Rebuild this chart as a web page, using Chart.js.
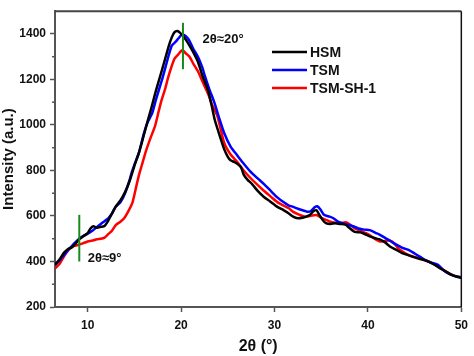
<!DOCTYPE html>
<html><head><meta charset="utf-8">
<script src="https://cdn.jsdelivr.net/npm/chart.js@4.4.0/dist/chart.umd.min.js"></script>
<style>html,body{margin:0;padding:0;background:#fff}#wrap{width:474px;height:356px}</style>
</head><body><div id="wrap"><canvas id="c" width="474" height="356"></canvas></div>
<script>
const hsmX = [6.5,7.0,7.5,7.9,8.3,8.7,9.1,9.5,10.0,10.3,10.6,11.0,11.4,11.8,12.2,12.6,13.0,13.5,14.0,14.5,15.0,15.5,15.8,16.3,16.85,17.3,17.8,18.3,18.7,19.0,19.3,19.6,19.9,20.2,20.5,20.9,21.3,21.8,22.3,22.9,23.3,23.6,24.0,24.6,25.0,25.3,25.8,26.4,26.7,27.1,27.6,28.2,28.9,29.5,30.3,31.0,31.5,32.0,32.5,33.0,33.4,33.8,34.2,34.5,34.8,35.2,35.5,36.0,36.5,37.0,37.6,38.0,38.6,39.2,39.6,40.2,40.8,41.2,41.8,42.4,43.0,43.66,44.3,45.0,45.5,46.1,46.7,47.3,47.8,48.4,48.9,49.5,50];
const hsmY = [386,410,440,455,462,478,498,510,525,545,555,548,552,556,580,611,641,668,705,755,820,880,923,1000,1080,1150,1220,1292,1350,1385,1408,1413,1405,1391,1375,1349,1320,1278,1215,1150,1080,1023,970,895,860,845,835,815,782,760,740,710,682,665,640,625,612,597,590,592,597,605,622,625,605,580,569,565,568,565,562,548,530,528,522,510,502,498,485,465,452,437,428,418,412,406,395,382,368,355,342,333,328];
const tsmX = [6.5,7.0,7.5,7.9,8.3,8.7,9.1,9.5,10.0,10.5,11.0,11.4,11.8,12.2,12.6,13.0,13.5,14.0,14.5,14.7,15.0,15.5,16.0,16.4,16.9,17.3,17.6,18.0,18.3,18.7,19.0,19.4,19.7,20.0,20.2,20.5,20.9,21.3,21.8,22.3,22.5,23.0,23.6,24.0,24.6,25.3,26.0,26.6,27.4,28.2,28.9,29.6,30.3,31.0,31.5,32.0,32.5,33.0,33.5,33.9,34.3,34.57,34.9,35.3,35.9,36.3,36.8,37.3,37.8,38.4,39.0,39.6,40.2,40.8,41.2,41.8,42.4,43.0,43.7,44.4,45.0,45.6,46.2,46.8,47.5,48.0,48.5,49.2,50];
const tsmY = [385,405,430,450,468,485,500,512,522,535,552,565,577,590,611,641,660,700,760,790,825,881,960,1010,1051,1110,1151,1205,1250,1310,1349,1365,1380,1395,1398,1390,1370,1335,1300,1250,1221,1160,1094,1040,966,905,867,835,796,765,739,710,682,660,647,640,632,625,619,622,638,643,630,605,597,590,575,568,562,555,545,540,538,526,519,505,490,475,460,450,435,420,405,395,385,365,350,338,330];
const sh1X = [6.5,7.0,7.5,7.9,8.3,8.7,9.1,9.5,10.0,10.5,11.0,11.4,11.8,12.2,12.6,13.0,13.5,13.9,14.4,14.8,15.2,15.5,15.8,16.2,16.7,17.2,17.6,17.9,18.3,18.6,19.0,19.3,19.7,20.0,20.2,20.5,20.9,21.3,21.8,22.3,22.9,23.3,23.9,24.6,25.3,26.0,26.7,27.4,28.1,28.86,29.6,30.3,31.0,31.5,32.0,32.5,33.0,33.4,34.0,34.5,35.0,35.5,35.9,36.5,37.0,37.6,38.0,38.6,39.2,39.8,40.4,40.8,41.3,41.8,42.3,42.8,43.3,44.0,44.6,45.2,45.8,46.5,47.2,47.8,48.5,49.2,50];
const sh1Y = [370,390,425,450,465,470,474,480,488,492,498,500,505,520,535,560,575,590,625,660,730,782,824,881,940,994,1060,1108,1160,1207,1260,1292,1310,1325,1328,1315,1300,1270,1236,1190,1136,1090,1037,923,870,838,800,768,740,711,685,661,645,635,618,608,600,597,602,604,592,583,576,570,568,572,565,545,535,525,510,498,488,490,492,480,455,436,425,418,410,399,385,370,352,338,330];
const seriesNames = ['HSM','TSM','TSM-SH-1'];
const seriesColors = ['#000000','#0000ff','#ff0000'];
const xTicks = [10,20,30,40,50];
const yTicks = [200,400,600,800,1000,1200,1400];
const yMinorTicks = [300,500,700,900,1100,1300];
const annoX = [9.1,20.2];
const annoYLow = [400,1245];
const annoYHigh = [605,1449];
const annoText = ['2θ≈9°','2θ≈20°'];
const annoTextX = [10.0,22.3];
const annoTextY = [415,1375];

const FONT = '"Liberation Sans", Arial, sans-serif';
const pts = (xs, ys) => xs.map((x, i) => ({x, y: ys[i]}));

const extras = {
  id: 'extras',
  afterDatasetsDraw(chart) {
    const ctx = chart.ctx, xs = chart.scales.x, ys = chart.scales.y, a = chart.chartArea;
    ctx.save();
    ctx.strokeStyle = '#1a8a1a'; ctx.lineWidth = 2;
    for (let i = 0; i < annoX.length; i++) {
      const px = xs.getPixelForValue(annoX[i]);
      ctx.beginPath();
      ctx.moveTo(px, ys.getPixelForValue(annoYLow[i]));
      ctx.lineTo(px, ys.getPixelForValue(annoYHigh[i]));
      ctx.stroke();
      ctx.fillStyle = '#111'; ctx.font = 'bold 13px ' + FONT;
      ctx.textAlign = 'left'; ctx.textBaseline = 'middle';
      ctx.fillText(annoText[i], xs.getPixelForValue(annoTextX[i]), ys.getPixelForValue(annoTextY[i]));
    }
    for (let i = 0; i < seriesNames.length; i++) {
      const y = 52 + i * 18;
      ctx.strokeStyle = seriesColors[i]; ctx.lineWidth = 2.5;
      ctx.beginPath(); ctx.moveTo(272, y); ctx.lineTo(307, y); ctx.stroke();
      ctx.fillStyle = '#111'; ctx.font = 'bold 14px ' + FONT;
      ctx.textAlign = 'left'; ctx.textBaseline = 'middle';
      ctx.fillText(seriesNames[i], 310, y + 1);
    }
    ctx.strokeStyle = '#444'; ctx.lineWidth = 2;
    ctx.beginPath(); ctx.moveTo(a.left, a.top); ctx.lineTo(a.right, a.top); ctx.stroke();
    ctx.strokeStyle = '#111'; ctx.lineWidth = 1.5;
    ctx.beginPath(); ctx.moveTo(a.right, a.top); ctx.lineTo(a.right, a.bottom); ctx.stroke();
    ctx.strokeStyle = '#555'; ctx.lineWidth = 1.5;
    for (const v of yMinorTicks) {
      const py = ys.getPixelForValue(v);
      ctx.beginPath(); ctx.moveTo(a.left - 3, py); ctx.lineTo(a.left, py); ctx.stroke();
    }
    ctx.restore();
  }
};

new Chart(document.getElementById('c'), {
  type: 'line',
  data: {
    datasets: [
      {label: seriesNames[0], data: pts(hsmX, hsmY), borderColor: seriesColors[0]},
      {label: seriesNames[1], data: pts(tsmX, tsmY), borderColor: seriesColors[1]},
      {label: seriesNames[2], data: pts(sh1X, sh1Y), borderColor: seriesColors[2]}
    ]
  },
  options: {
    responsive: false, animation: false,
    layout: {padding: {top: 1, right: 7, left: 0, bottom: 0}},
    elements: {point: {radius: 0}, line: {borderWidth: 2.5, tension: 0.2}},
    plugins: {legend: {display: false}, tooltip: {enabled: false}},
    scales: {
      x: {
        type: 'linear', min: 6.5, max: 50,
        afterBuildTicks: s => { s.ticks = xTicks.map(v => ({value: v})); },
        afterFit: s => { s.height = 49; },
        grid: {drawOnChartArea: false, drawTicks: true, tickLength: 5, tickColor: '#555', tickWidth: 1.5},
        border: {display: true, color: '#555', width: 2},
        ticks: {color: '#111', font: {family: FONT, size: 12, weight: 'bold'}, padding: 6, maxRotation: 0, callback: v => String(v)},
        title: {display: true, text: '2θ (°)', color: '#111', font: {family: FONT, size: 16, weight: 'bold'}, padding: 0}
      },
      y: {
        type: 'linear', min: 200, max: 1500,
        afterBuildTicks: s => { s.ticks = yTicks.map(v => ({value: v})); },
        afterFit: s => { s.width = 55; },
        grid: {drawOnChartArea: false, drawTicks: true, tickLength: 5, tickColor: '#555', tickWidth: 1.5},
        border: {display: true, color: '#555', width: 2},
        ticks: {color: '#111', font: {family: FONT, size: 12, weight: 'bold'}, padding: 4, callback: v => String(v)},
        title: {display: true, text: 'Intensity (a.u.)', color: '#111', font: {family: FONT, size: 15, weight: 'bold'}, padding: 0}
      }
    }
  },
  plugins: [extras]
});
</script></body></html>
